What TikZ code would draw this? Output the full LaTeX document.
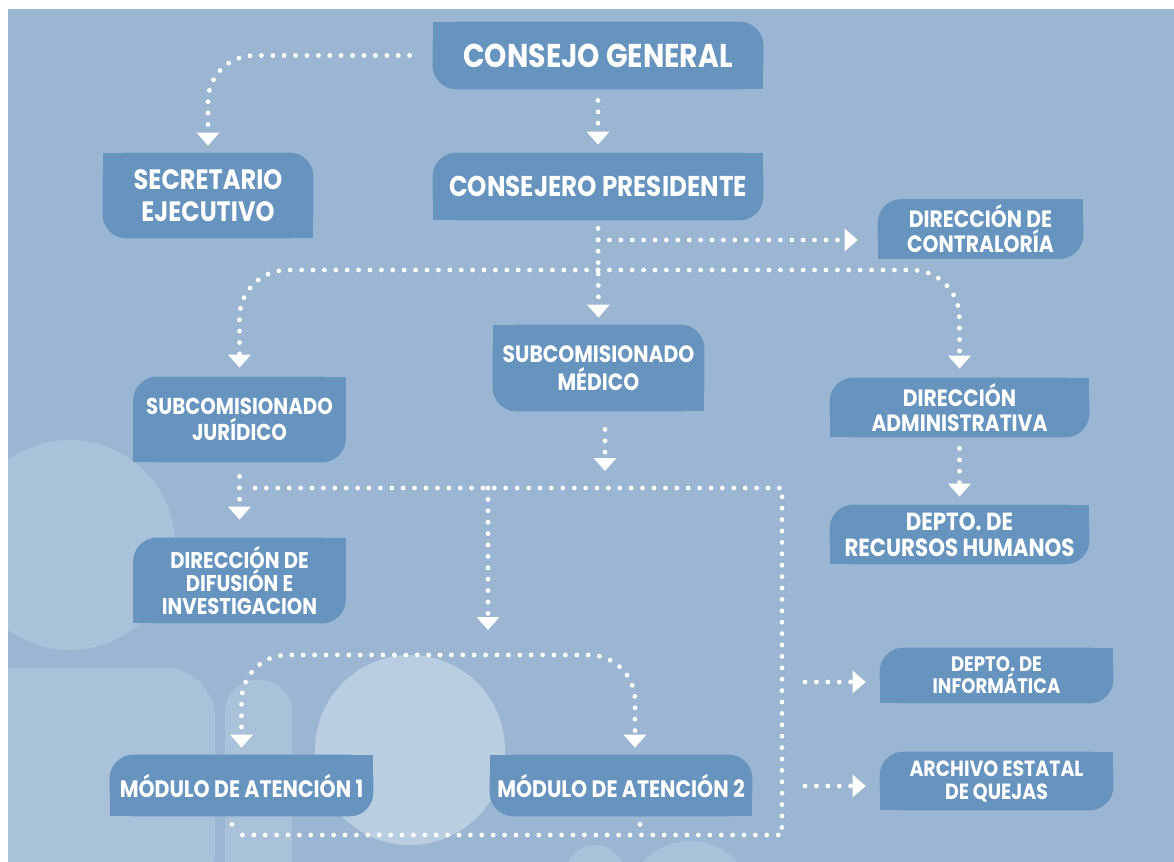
\documentclass[tikz,border=0pt]{standalone}
\usepackage{fontspec}
\setmainfont{Poppins}[FakeStretch=0.86]
\usetikzlibrary{arrows.meta,backgrounds}

\definecolor{bgblue}{HTML}{9AB6D2}
\definecolor{lightblob}{HTML}{A9C2DA}
\definecolor{cardblue}{HTML}{6793BF}

% card with rounded top-left and bottom-right corners
\newcommand{\cardnw}[1]{%
  \fill[cardblue, rounded corners=12pt] (#1.north west) rectangle (#1.south east);
  \fill[cardblue] (#1.north east) rectangle ([xshift=-14pt,yshift=-14pt]#1.north east);
  \fill[cardblue] (#1.south west) rectangle ([xshift=14pt,yshift=14pt]#1.south west);}
% card with rounded top-right and bottom-left corners
\newcommand{\cardne}[1]{%
  \fill[cardblue, rounded corners=12pt] (#1.north west) rectangle (#1.south east);
  \fill[cardblue] (#1.north west) rectangle ([xshift=14pt,yshift=-14pt]#1.north west);
  \fill[cardblue] (#1.south east) rectangle ([xshift=-14pt,yshift=14pt]#1.south east);}

\begin{document}
\begin{tikzpicture}[x=0.5pt, y=-0.5pt,
    unit/.style={text=white, align=center, inner sep=0pt},
    dots/.style={white, line width=2.4pt, line cap=round, dash pattern=on 0pt off 5.7pt},
    tip/.style={-{Triangle[width=11.5pt,length=6.5pt,line width=0pt]}},
    fs/.style 2 args={font=\fontsize{#1}{#2}\selectfont\bfseries}]
\useasboundingbox (0,0) rectangle (1174,862);

\node[unit, fs={16.5}{19}, minimum width=165pt, minimum height=33.5pt] (cg) at (598,55.5) {CONSEJO GENERAL};
\node[unit, fs={14}{16}, minimum width=105pt, minimum height=42.5pt] (se) at (208,195.5) {SECRETARIO\\EJECUTIVO};
\node[unit, fs={14.3}{16}, minimum width=165pt, minimum height=33.5pt] (cp) at (598,186.5) {CONSEJERO PRESIDENTE};
\node[unit, fs={11.8}{12.5}, minimum width=102.5pt, minimum height=29.5pt] (dc) at (980.5,229) {DIRECCIÓN DE\\CONTRALORÍA};
\node[unit, fs={11.5}{13}, minimum width=106pt, minimum height=42.5pt] (sj) at (239.5,419.5) {SUBCOMISIONADO\\JURÍDICO};
\node[unit, fs={11.8}{14}, minimum width=105.5pt, minimum height=43pt] (sm) at (598.5,368) {SUBCOMISIONADO\\MÉDICO};
\node[unit, fs={11.8}{12.5}, minimum width=129.5pt, minimum height=29.5pt] (da) at (959.5,407.5) {DIRECCIÓN\\ADMINISTRATIVA};
\node[unit, fs={12.4}{12.8}, minimum width=129.5pt, minimum height=29.5pt] (rh) at (959.5,534.5) {DEPTO. DE\\RECURSOS HUMANOS};
\node[unit, fs={11.4}{11.6}, minimum width=106pt, minimum height=42.5pt] (dd) at (239.5,580.5) {DIRECCIÓN DE\\DIFUSIÓN E\\INVESTIGACION};
\node[unit, fs={11.9}{13}, minimum width=131.5pt, minimum height=30.5pt] (m1) at (241.5,785.5) {MÓDULO DE ATENCIÓN 1};
\node[unit, fs={11.9}{13}, minimum width=131pt, minimum height=30.5pt] (m2) at (621,785.5) {MÓDULO DE ATENCIÓN 2};
\node[unit, fs={10.5}{11}, minimum width=116.5pt, minimum height=27.5pt] (di) at (996.5,675.5) {DEPTO. DE\\INFORMÁTICA};
\node[unit, fs={11}{11.5}, minimum width=116.5pt, minimum height=29pt] (ae) at (996.5,781) {ARCHIVO ESTATAL\\DE QUEJAS};

% free ends of the dotted lines
\coordinate (c1) at (598,240);
\coordinate (b1) at (598,270);
\coordinate (b2a) at (605,471);
\coordinate (b2l) at (255,488);
\coordinate (b2v) at (488,488);
\coordinate (b2r) at (782,488);
\coordinate (b2b) at (782,835);
\coordinate (b2m) at (640,835);
\coordinate (b2bl) at (232,835);
\coordinate (b3tip) at (488,630);
\coordinate (b3) at (440,655);
\coordinate (i1) at (805,682);
\coordinate (i2) at (805,786);

\draw[dots, tip, rounded corners=23pt, shorten <=11.5pt, shorten >=3.5pt] (cg.west) -| (se.north);
\draw[dots, tip, shorten <=5.5pt, shorten >=4pt] (cg.south) -- (cp.north);
\draw[dots, tip, shorten <=4pt, shorten >=3.5pt] (cp.south) -- (sm.north);
\draw[dots, tip, shorten >=10pt] (c1) -- (c1 -| dc.west);
\draw[dots, tip, rounded corners=24pt, shorten >=4.5pt] (b1) -| (sj.north);
\draw[dots, tip, rounded corners=24pt, shorten >=4.5pt] (b1) -| (da.north);
\draw[dots, tip, shorten <=5.5pt, shorten >=4pt] (da.south) -- (rh.north);
\draw[dots, tip, shorten <=9pt] (sm.south -| b2a) -- (b2a);
\draw[dots, tip, shorten <=7pt, shorten >=9pt] (sj.south) -- (dd.north);
\draw[dots] (b2l) -- (b2r) -- (b2b) -- (b2bl);
\draw[dots, tip] (b2v) -- (b3tip);
\draw[dots, tip, rounded corners=23pt, shorten >=3.5pt] (b3) -| (m1.north);
\draw[dots, tip, rounded corners=23pt, shorten >=3.5pt] (b3) -| ([xshift=7pt]m2.north);
\draw[dots, shorten <=4pt] (m1.south -| b2bl) -- (b2bl);
\draw[dots, shorten <=4pt] (m2.south -| b2m) -- (b2m);
\draw[dots, tip, shorten >=7pt] (i1) -- (i1 -| di.west);
\draw[dots, tip, shorten >=7pt] (i2) -- (i2 -| ae.west);

\begin{scope}[on background layer]
  \fill[white] (0,0) rectangle (1174,862);
  \begin{scope}
    \clip (8,9) rectangle (1174,862);
    \fill[bgblue] (8,9) rectangle (1174,862);
    \fill[lightblob] (70,545) circle (52.5pt);
    \fill[lightblob, rounded corners=25pt] (-40,668) rectangle (215,900);
    \fill[lightblob, rounded corners=16pt] (225,680) rectangle (292,900);
    \fill[lightblob!80!white] (410,750) circle (47.5pt);
    \fill[lightblob] (595,875) circle (15pt);
    \fill[lightblob] (690,905) circle (32pt);
  \end{scope}
  \cardne{cg}
  \cardne{se}
  \cardnw{cp}
  \cardnw{dc}
  \cardnw{sj}
  \cardne{sm}
  \cardnw{da}
  \cardnw{rh}
  \cardnw{dd}
  \cardnw{m1}
  \cardne{m2}
  \cardnw{di}
  \cardnw{ae}
\end{scope}
\end{tikzpicture}
\end{document}
